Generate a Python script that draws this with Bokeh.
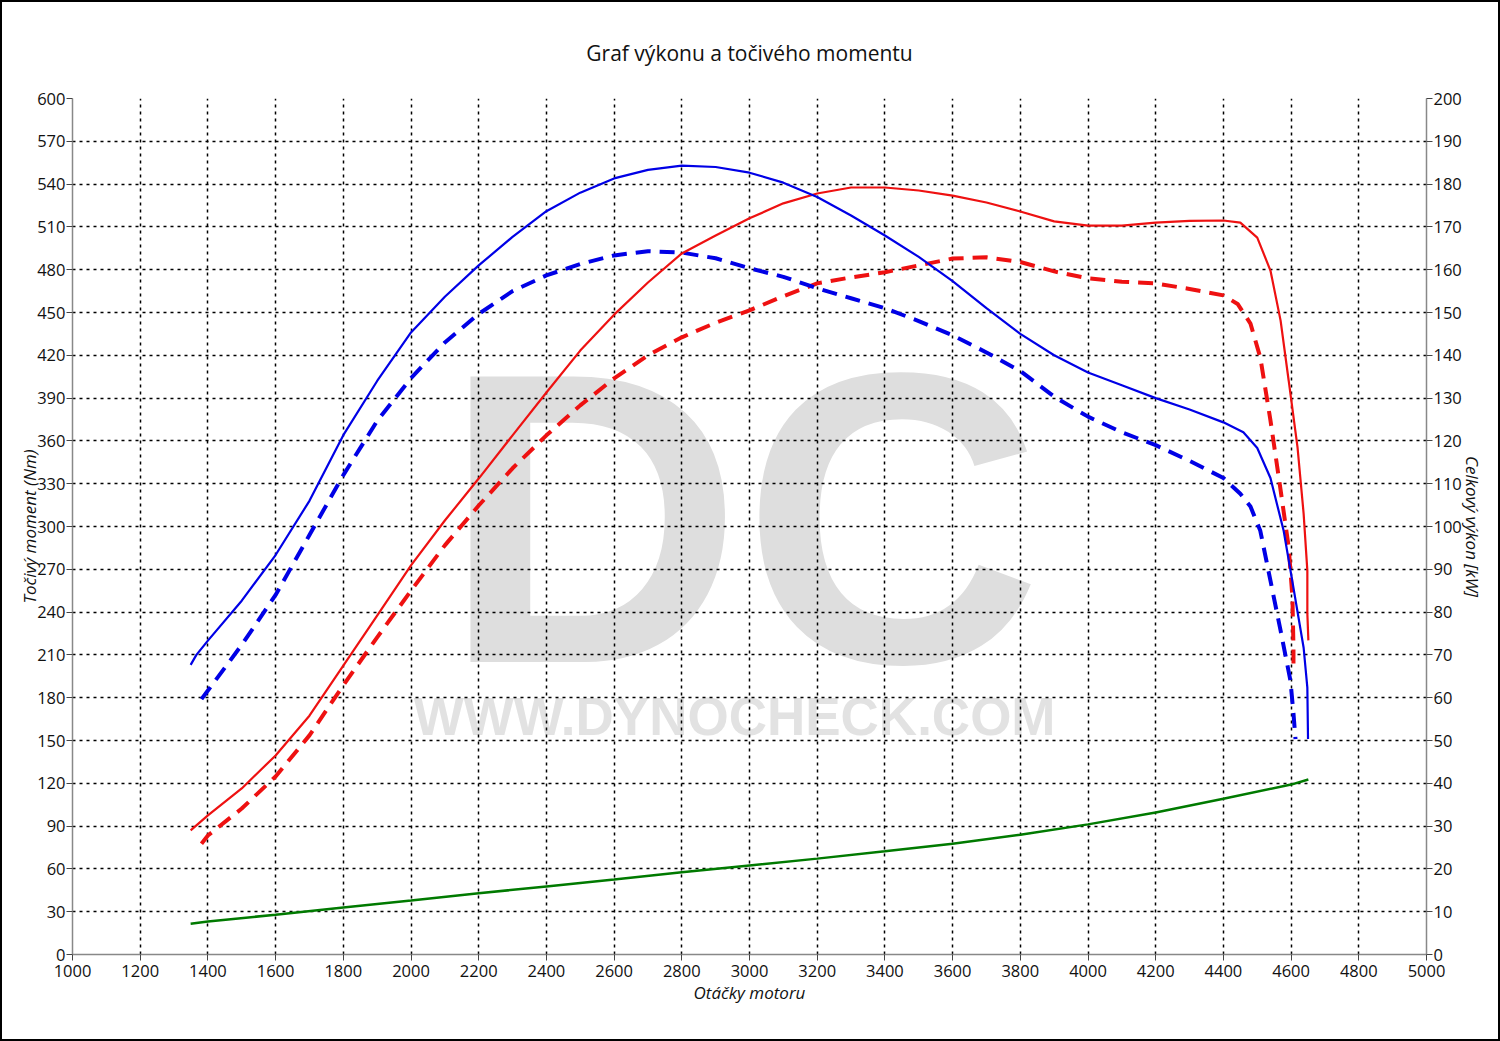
from bokeh.plotting import figure
from bokeh.models import (Range1d, LinearAxis, FixedTicker, Label, Title)
from bokeh.embed import file_html
from bokeh.resources import INLINE

# ---- data ----
torque_rpm = [1349, 1366, 1400, 1500, 1600, 1700, 1800, 1900, 2000, 2100, 2200, 2300, 2400,
              2500, 2600, 2700, 2800, 2900, 3000, 3100, 3200, 3300, 3400, 3500, 3600, 3700,
              3800, 3900, 4000, 4100, 4200, 4300, 4400, 4459, 4500, 4539, 4578, 4607, 4637,
              4648, 4650]
torque_tuned = [203, 210, 220, 248, 280, 318, 364, 402, 436, 461, 483, 503, 521,
                534, 544, 550, 553, 552, 548, 541, 531, 518, 504, 489, 472, 453,
                435, 420, 408, 399, 390, 382, 373, 366, 355, 334, 297, 257, 215,
                187, 151]

torque_s_rpm = [1381, 1400, 1500, 1600, 1700, 1800, 1900, 2000, 2100, 2200, 2300, 2400,
                2500, 2600, 2700, 2800, 2900, 3000, 3100, 3200, 3300, 3400, 3500, 3600,
                3700, 3800, 3900, 4000, 4100, 4200, 4300, 4400, 4450, 4480, 4509, 4539,
                4569, 4598, 4607, 4613]
torque_stock = [179, 185, 217, 252, 294, 336, 374, 404, 429, 449, 465, 476,
                484, 490, 493, 492, 488, 481, 475, 467, 460, 453, 444, 434,
                422, 409, 391, 377, 366, 357, 346, 334, 323, 314, 297, 262,
                227, 192, 169, 151]

power_rpm = [1349, 1400, 1500, 1600, 1700, 1800, 1900, 2000, 2100, 2200, 2300, 2400,
             2500, 2600, 2700, 2800, 2900, 3000, 3100, 3200, 3300, 3400, 3500, 3600,
             3700, 3800, 3900, 4000, 4100, 4200, 4300, 4400, 4450, 4500, 4539, 4569,
             4593, 4619, 4637, 4648, 4648, 4651]
power_tuned = [29.0, 32.5, 38.8, 46.5, 55.8, 67.5, 79.2, 90.9, 101.4, 111.2, 121.3, 131.3,
               141.1, 149.5, 157.0, 163.8, 168.0, 172.0, 175.5, 177.8, 179.2, 179.2, 178.5, 177.3,
               175.7, 173.6, 171.3, 170.3, 170.3, 171.0, 171.4, 171.5, 171.0, 167.5, 159.8, 148.1,
               134.0, 118.5, 103.0, 89.7, 79.7, 73.4]

power_s_rpm = [1381, 1400, 1500, 1600, 1700, 1800, 1900, 2000, 2100, 2200, 2300, 2400,
               2500, 2600, 2700, 2800, 2900, 3000, 3100, 3200, 3300, 3400, 3500, 3600,
               3700, 3800, 3900, 4000, 4100, 4200, 4300, 4400, 4442, 4480, 4509, 4539,
               4569, 4593, 4604, 4607, 4607]
power_stock = [25.9, 27.8, 34.1, 41.6, 51.2, 62.9, 74.1, 85.0, 95.6, 104.9, 113.6, 121.3,
               128.3, 134.6, 140.0, 144.2, 147.6, 150.5, 153.8, 156.8, 158.2, 159.4, 161.0, 162.6,
               162.9, 161.8, 159.6, 158.0, 157.2, 156.8, 155.5, 154.0, 152.0, 147.4, 139.5, 124.8,
               108.5, 95.1, 83.4, 71.7, 68.0]

loss_rpm = [1349, 1400, 1600, 1800, 2000, 2200, 2400, 2600, 2800, 3000, 3200, 3400,
            3600, 3800, 4000, 4200, 4400, 4600, 4651]
loss_power = [7.2, 7.7, 9.3, 11.0, 12.6, 14.3, 15.9, 17.5, 19.2, 20.8, 22.4, 24.1,
              25.9, 28.0, 30.4, 33.2, 36.4, 39.7, 40.9]

x_ticks = list(range(1000, 5001, 200))
torque_ticks = list(range(0, 601, 30))
power_ticks = list(range(0, 201, 10))

FONT = "Open Sans"

p = figure(frame_width=1354, frame_height=856,
           x_range=Range1d(1000, 5000), y_range=Range1d(0, 600),
           output_backend="svg", toolbar_location=None,
           min_border_left=70, min_border_right=72, min_border_top=96, min_border_bottom=85,
           background_fill_color="white", border_fill_color="white")
p.styles = {"border": "2px solid black"}
p.outline_line_color = None
p.extra_y_ranges = {"power": Range1d(0, 200)}

p.title = Title(text="Graf výkonu a točivého momentu", align="center",
                text_font=FONT, text_font_size="21px", text_font_style="normal",
                text_color="#111111", offset=4, standoff=40, padding=(0, 0, 0, 12))

# grids
p.xgrid.ticker = FixedTicker(ticks=x_ticks)
p.ygrid.ticker = FixedTicker(ticks=torque_ticks)
for g in (p.xgrid, p.ygrid):
    g.grid_line_color = "black"
    g.grid_line_dash = "3 4"
    g.grid_line_width = 1.5

# axes
def style_axis(ax):
    ax.major_label_text_font = FONT
    ax.major_label_text_font_size = "16.5px"
    ax.major_label_text_color = "#111111"
    ax.axis_line_color = "#888888"
    ax.axis_line_width = 1.5
    ax.major_tick_line_color = "#444444"
    ax.major_tick_out = 6
    ax.major_tick_in = 0
    ax.minor_tick_line_color = None
    ax.axis_label_text_font = FONT
    ax.axis_label_text_font_size = "17px"
    ax.axis_label_text_font_style = "italic"
    ax.axis_label_text_color = "#111111"
    ax.major_label_standoff = 1

p.xaxis.ticker = FixedTicker(ticks=x_ticks)
p.xaxis.axis_label = "Otáčky motoru"
style_axis(p.xaxis[0])
p.xaxis.major_label_standoff = 4
p.xaxis.axis_label_standoff = 1
p.yaxis.ticker = FixedTicker(ticks=torque_ticks)
p.yaxis.axis_label = "Točivý moment (Nm)"
style_axis(p.yaxis[0])
p.yaxis.axis_label_standoff = -7

ax_r = LinearAxis(y_range_name="power", ticker=FixedTicker(ticks=power_ticks),
                  axis_label="Celkový výkon [kW]")
style_axis(ax_r)
ax_r.axis_label_standoff = -4
p.add_layout(ax_r, "right")

# watermark
p.add_layout(Label(x=2979, y=306, text="DC", text_font="Liberation Sans",
                   text_font_style="bold", text_font_size="415px",
                   text_color="#dedede", text_align="center", text_baseline="middle",
                   level="image"))
p.add_layout(Label(x=2956, y=167, text="WWW.DYNOCHECK.COM", text_font="Liberation Sans",
                   text_font_style="bold", text_font_size="53px",
                   text_color="#e2e2e2", text_align="center", text_baseline="middle",
                   level="image"))

# curves
p.line(loss_rpm, loss_power, y_range_name="power", line_color="#007a00", line_width=2.5)
p.line(power_s_rpm, power_stock, y_range_name="power", line_color="#ee1111",
       line_width=4, line_dash="15 9")
p.line(torque_s_rpm, torque_stock, line_color="#0000e6", line_width=4, line_dash="15 9")
p.line(power_rpm, power_tuned, y_range_name="power", line_color="#ee1111", line_width=2.2)
p.line(torque_rpm, torque_tuned, line_color="#0000e6", line_width=2.2)

open("out.html", "w").write(file_html(p, INLINE))
